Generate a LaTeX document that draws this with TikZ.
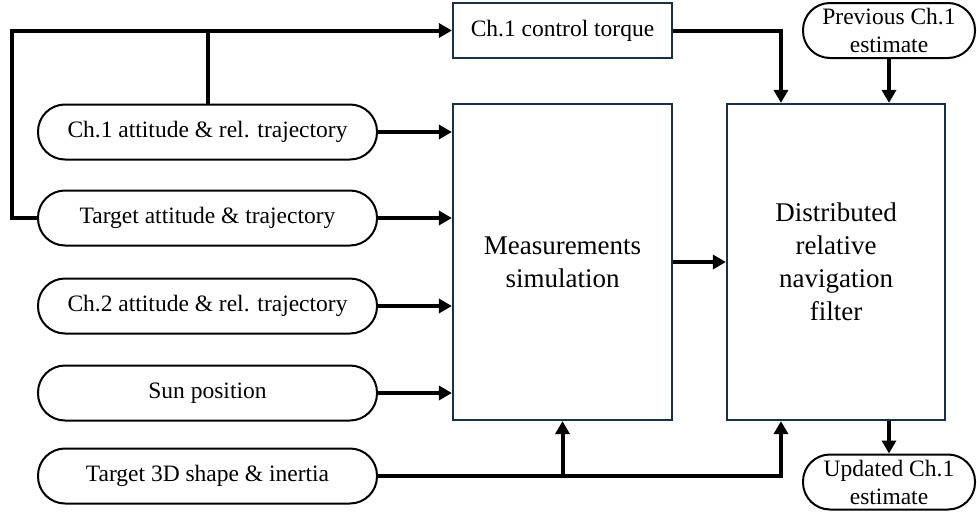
\documentclass[tikz,border=0pt]{standalone}
\usepackage{fontspec}
\setmainfont{Liberation Serif}
\usetikzlibrary{arrows.meta,calc}
\definecolor{boxline}{HTML}{1B3143}
\tikzset{
  pill/.style={draw=black, line width=2pt, rounded corners=27pt, minimum height=55pt,
    inner sep=0pt, align=center, font=\fontsize{23.5}{28}\selectfont},
  block/.style={draw=boxline, line width=2.2pt, inner sep=0pt, align=center},
  conn/.style={line width=4pt, line join=miter},
  arr/.style={conn, -{Triangle[length=13pt,width=14pt]}},
}
\begin{document}
\begin{tikzpicture}[x=1pt,y=-1pt]
\useasboundingbox (0,0) rectangle (977,514);

% processing blocks
\node[block, minimum width=219pt, minimum height=55pt, font=\fontsize{23.5}{28}\selectfont]
  (torque) at (562.5,30.5) {Ch.1 control torque};
\node[block, minimum width=219pt, minimum height=316pt, font=\fontsize{27}{33}\selectfont]
  (meas) at (562.5,262) {Measurements\\simulation};
\node[block, minimum width=218pt, minimum height=316pt, font=\fontsize{27}{33}\selectfont]
  (filt) at (836,262) {Distributed\\relative\\navigation\\filter};

% estimates
\node[pill, minimum width=172pt] (prev) at (889,30.5) {Previous Ch.1\\estimate};
\node[pill, minimum width=172pt] (upd) at (889,482) {Updated Ch.1\\estimate};

% simulation inputs
\node[pill, minimum width=339pt] (in1) at (207.5,132) {Ch.1 attitude \& rel. trajectory};
\node[pill, minimum width=339pt] (in2) at (207.5,218) {Target attitude \& trajectory};
\node[pill, minimum width=339pt] (in3) at (207.5,306) {Ch.2 attitude \& rel. trajectory};
\node[pill, minimum width=339pt] (in4) at (207.5,393) {Sun position};
\node[pill, minimum width=339pt] (in5) at (207.5,476) {Target 3D shape \& inertia};

% inputs into the measurement simulation
\draw[arr] (in1.east) -- (in1.east -| meas.west);
\draw[arr] (in2.east) -- (in2.east -| meas.west);
\draw[arr] (in3.east) -- (in3.east -| meas.west);
\draw[arr] (in4.east) -- (in4.east -| meas.west);

% states feeding the control torque
\coordinate (fb) at (12,30.5);
\draw[arr] (in2.west) -- (fb |- in2.west) -- (fb) -- (torque.west);
\draw[conn] (in1.north) -- (in1.north |- torque.west);

% into the filter
\coordinate (ftop) at ($(filt.north west)!0.25!(filt.north east)$);
\coordinate (fbot) at ($(filt.south west)!0.25!(filt.south east)$);
\draw[arr] (torque.east) -| (ftop);
\draw[arr] (prev.south) -- (prev.south |- filt.north);
\draw[arr] (meas.east) -- (meas.east -| filt.west);
\draw[arr] (in5.east) -- (fbot |- in5.east) -- (fbot);
\draw[arr] (in5.east -| meas.south) -- (meas.south);
\draw[arr] (filt.south -| upd.north) -- (upd.north);
\end{tikzpicture}
\end{document}
